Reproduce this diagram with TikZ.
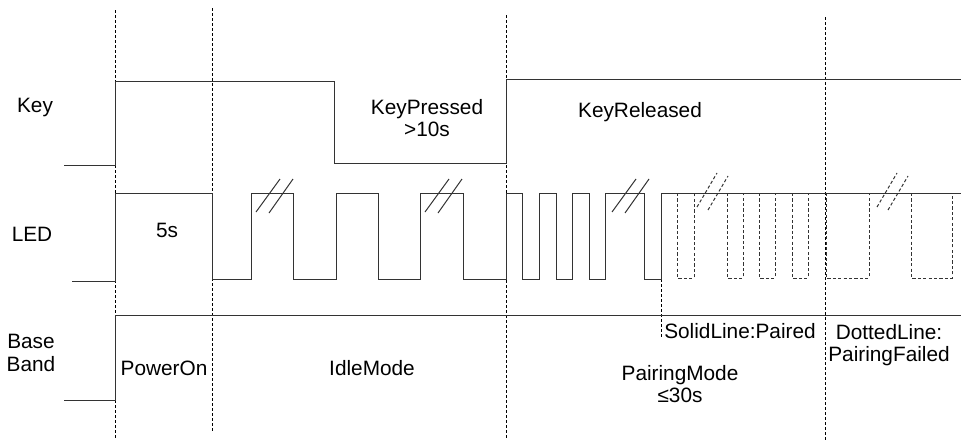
\documentclass[tikz,border=0pt]{standalone}
\usepackage{fontspec}
\setmainfont{Liberation Sans}
\usepackage{tikz}
\usetikzlibrary{positioning}

\begin{document}
\begin{tikzpicture}[
    x=0.5pt, y=-0.5pt,
    sig/.style={line width=0.5pt, black!80},
    dsig/.style={sig, dash pattern=on 1.6pt off 1.1pt},
    sep/.style={line width=0.45pt, black, dash pattern=on 1.5pt off 1pt},
    lbl/.style={inner sep=0pt, align=center, font=\fontsize{10.4}{11.3}\selectfont}
]
\useasboundingbox (0,0) rectangle (961,440);

% phase borders
\draw[sep] (115,10) -- (115,440);
\draw[sep] (212,8) -- (212,432);
\draw[sep] (506,15) -- (506,440);
\draw[sep] (825,17) -- (825,440);
\draw[sep] (661,279) -- (661,338);

% Key
\draw[sig] (64,165) -- (115,165) -- (115,81) -- (334,81) -- (334,163)
    -- (506,163) -- (506,79) -- (961,79);

% LED, paired
\draw[sig] (72,281) -- (115,281) -- (115,193) -- (212,193) -- (212,279)
    -- (251,279) -- (251,193) -- (293,193) -- (293,279) -- (336,279)
    -- (336,193) -- (378,193) -- (378,279) -- (420,279) -- (420,193)
    -- (463,193) -- (463,279) -- (506,279) -- (506,193) -- (522,193)
    -- (522,279) -- (539,279) -- (539,193) -- (556,193) -- (556,279)
    -- (572,279) -- (572,193) -- (589,193) -- (589,279) -- (605,279)
    -- (605,193) -- (644,193) -- (644,279) -- (661,279) -- (661,193)
    -- (961,193);

% LED, pairing failed
\foreach \a/\b in {677/694, 727/743, 759/775, 792/808, 826/869, 911/952}
    \draw[dsig] (\a,193) -- (\a,278) -- (\b,278) -- (\b,193);

% time breaks
\foreach \x in {256, 425, 612} {
    \draw[sig] (\x,212) -- ++(24,-33);
    \draw[sig] (\x+13,213) -- ++(24,-34);
}
\foreach \x in {697, 877} {
    \draw[dsig] (\x,207) -- ++(20,-34);
    \draw[dsig] (\x+11,210) -- ++(20,-34);
}

% Base Band
\draw[sig] (64,400) -- (115,400) -- (115,315) -- (961,315);

% labels
\node[lbl] (key) at (35,107) {Key};
\node[lbl] (led) at (32,234) {LED};
\node[lbl] (bb) at (31,353) {Base\\Band};
\node[lbl] (pressed) at (427,118) {KeyPressed\\>10s};
\node[lbl] (released) at (640,112) {KeyReleased};
\node[lbl] (fivesec) at (167,230) {5s};
\node[lbl] (poweron) at (164,368) {PowerOn};
\node[lbl] (idle) at (372,368) {IdleMode};
\node[lbl] (pairing) at (680,384) {PairingMode\\≤30s};
\node[lbl] (paired) at (740,331) {SolidLine:Paired};
\node[lbl] (failed) at (889,345) {DottedLine:\\PairingFailed};

\end{tikzpicture}
\end{document}
